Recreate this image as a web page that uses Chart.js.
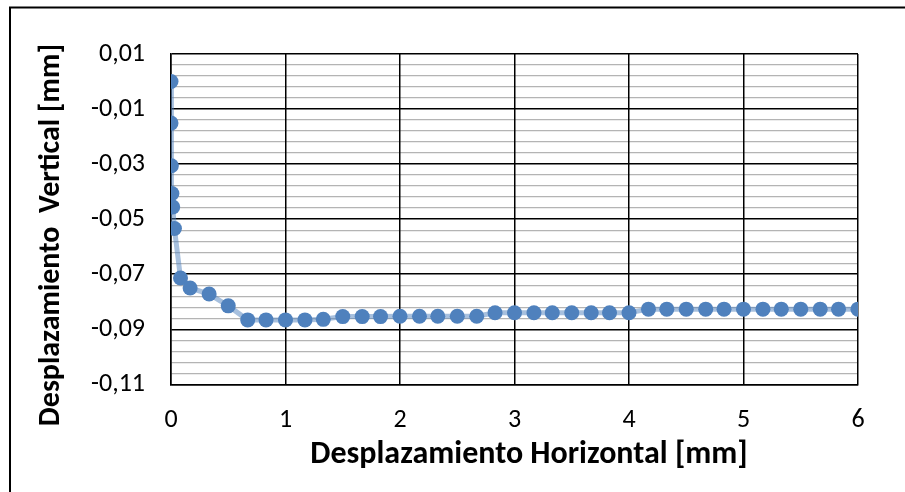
<!DOCTYPE html>
<html lang="es">
<head>
  <meta charset="UTF-8">
  <title>Desplazamiento vertical vs horizontal</title>
  <script src="https://cdn.jsdelivr.net/npm/chart.js"></script>
  <style>
    body {
      margin: 0;
      background: #ffffff;
    }
    .wrap {
      width: 905px;
      height: 492px;
    }
  </style>
</head>
<body>
  <div class="wrap">
    <canvas id="chart"></canvas>
  </div>

  <script>
    // datos
    const despHorizontal = [0, 0, 0.003, 0.008, 0.015, 0.03, 0.083, 0.167, 0.333, 0.5,
      0.67, 0.83, 1, 1.17, 1.33, 1.5, 1.67, 1.83, 2, 2.17, 2.33, 2.5, 2.67,
      2.83, 3, 3.17, 3.33, 3.5, 3.67, 3.83, 4,
      4.17, 4.33, 4.5, 4.67, 4.83, 5, 5.17, 5.33, 5.5, 5.67, 5.83, 6];
    const despVertical = [0, -0.0151, -0.0306, -0.0407, -0.0456, -0.0534, -0.0714, -0.0750, -0.0772, -0.0815,
      -0.0866, -0.0866, -0.0866, -0.0866, -0.0864, -0.0854, -0.0854, -0.0854, -0.0853, -0.0853, -0.0853, -0.0853, -0.0853,
      -0.0840, -0.0840, -0.0840, -0.0840, -0.0840, -0.0840, -0.0840, -0.0840,
      -0.0827, -0.0827, -0.0827, -0.0827, -0.0827, -0.0827, -0.0827, -0.0827, -0.0827, -0.0827, -0.0827, -0.0827];

    const xTicks = [0, 1, 2, 3, 4, 5, 6];
    const yMajorTicks = [-0.11, -0.09, -0.07, -0.05, -0.03, -0.01, 0.01];
    const yMinorPerMajor = 5;

    const tituloX = 'Desplazamiento Horizontal [mm]';
    const tituloY = 'Desplazamiento  Vertical [mm]';

    const fontFamily = 'Carlito, "Open Sans", sans-serif';

    const points = despHorizontal.map((x, i) => ({ x: x, y: despVertical[i] }));

    // marco exterior y titulos de ejes
    const frameAndTitles = {
      id: 'frameAndTitles',
      beforeDraw(chart) {
        const ctx = chart.ctx;
        ctx.save();
        ctx.strokeStyle = '#000';
        ctx.lineWidth = 2;
        ctx.beginPath();
        ctx.moveTo(10, 492);
        ctx.lineTo(10, 7.5);
        ctx.lineTo(905, 7.5);
        ctx.stroke();
        ctx.restore();
      },
      afterDraw(chart) {
        const ctx = chart.ctx;
        ctx.save();
        ctx.fillStyle = '#000';
        ctx.textAlign = 'center';
        ctx.textBaseline = 'middle';
        ctx.font = 'bold 32px ' + fontFamily;
        ctx.fillText(tituloX, 529, 455);
        ctx.translate(51, 235);
        ctx.rotate(-Math.PI / 2);
        ctx.font = 'bold 30px ' + fontFamily;
        ctx.fillText(tituloY, 0, 0);
        ctx.restore();
      }
    };

    new Chart(document.getElementById('chart'), {
      type: 'scatter',
      data: {
        datasets: [{
          data: points,
          showLine: true,
          borderColor: 'rgba(79, 129, 189, 0.5)',
          borderWidth: 5,
          backgroundColor: '#4f81bd',
          pointBackgroundColor: '#4f81bd',
          pointBorderWidth: 0,
          pointRadius: 7.5,
          tension: 0
        }]
      },
      options: {
        responsive: true,
        maintainAspectRatio: false,
        animation: false,
        layout: {
          padding: { left: 0, right: 47, top: 54, bottom: 0 }
        },
        plugins: {
          legend: { display: false },
          tooltip: { enabled: false }
        },
        scales: {
          x: {
            type: 'linear',
            min: 0,
            max: 6,
            afterBuildTicks: (scale) => {
              scale.ticks = xTicks.map(v => ({ value: v }));
            },
            afterFit: (scale) => {
              scale.height = 492 - 384.3;
            },
            grid: {
              color: '#000',
              lineWidth: 1.5,
              drawTicks: false,
              z: -1
            },
            border: { color: '#000', width: 1.5 },
            ticks: {
              color: '#000',
              padding: 21,
              font: { family: fontFamily, size: 26 },
              callback: (v) => String(v)
            }
          },
          y: {
            type: 'linear',
            min: -0.11,
            max: 0.01,
            afterBuildTicks: (scale) => {
              const ticks = [];
              for (let i = 0; i < yMajorTicks.length; i++) {
                ticks.push({ value: yMajorTicks[i], major: true });
                if (i < yMajorTicks.length - 1) {
                  const step = (yMajorTicks[i + 1] - yMajorTicks[i]) / yMinorPerMajor;
                  for (let k = 1; k < yMinorPerMajor; k++) {
                    ticks.push({ value: yMajorTicks[i] + k * step, major: false });
                  }
                }
              }
              scale.ticks = ticks;
            },
            afterFit: (scale) => {
              scale.width = 171;
            },
            grid: {
              color: (c) => (c.index % yMinorPerMajor === 0 ? '#000' : '#b4b4b4'),
              lineWidth: (c) => (c.index % yMinorPerMajor === 0 ? 1.5 : 1.3),
              drawTicks: false,
              z: -2
            },
            border: { color: '#000', width: 1.5 },
            ticks: {
              color: '#000',
              padding: 26,
              autoSkip: false,
              font: { family: fontFamily, size: 26 },
              callback: function (v, i) {
                if (i % yMinorPerMajor !== 0) return '';
                return v.toFixed(2).replace('.', ',');
              }
            }
          }
        }
      },
      plugins: [frameAndTitles]
    });
  </script>
</body>
</html>
